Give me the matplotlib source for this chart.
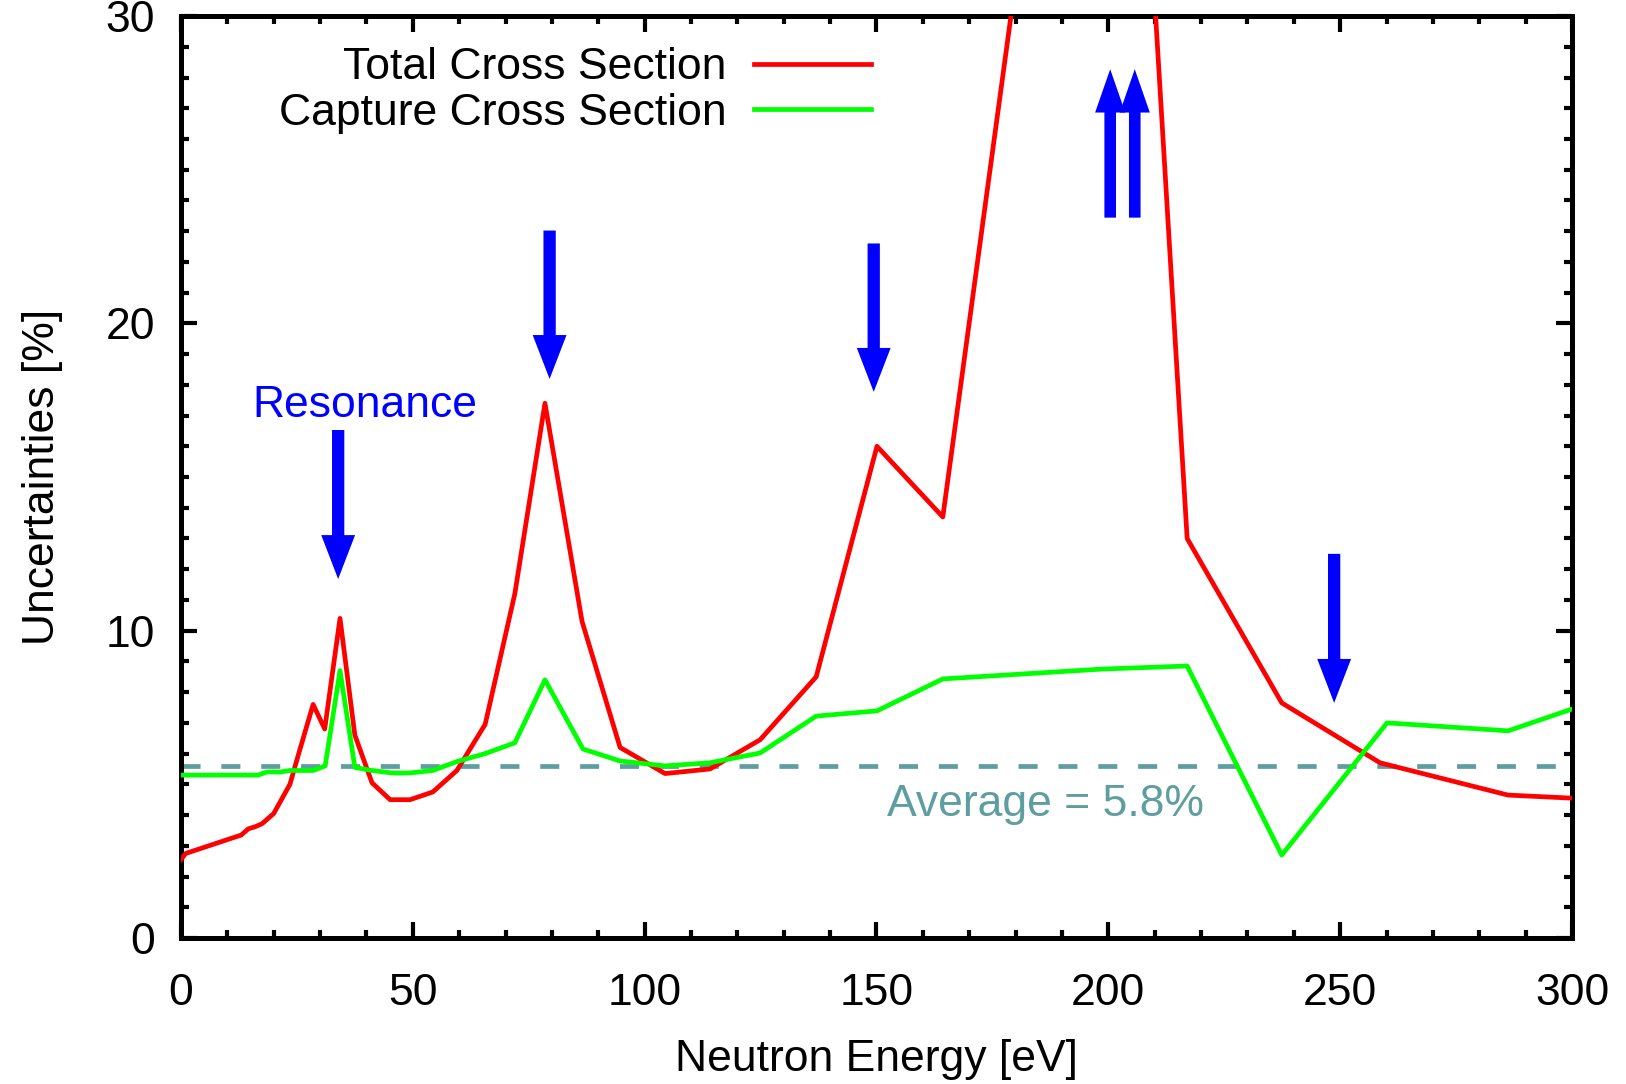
import matplotlib
matplotlib.use("Agg")
import matplotlib.pyplot as plt
from matplotlib.ticker import MultipleLocator

plt.rcParams['font.family'] = ['Liberation Sans', 'DejaVu Sans']

# ---------------- data ----------------
energy_total = [0, 1, 3, 5, 7, 9, 11, 13, 14.5, 16, 17.5, 20, 23.5, 25.2, 28.5, 31, 34.3,
                37.5, 41.2, 45.1, 49.4, 54.3, 59.5, 65.6, 72, 78.5, 86.5, 94.7, 104.4,
                114.1, 124.9, 137, 150.1, 164.3, 190, 205, 217, 237.4, 258.6, 286.2, 300]
unc_total = [2.55, 2.75, 2.85, 2.95, 3.05, 3.15, 3.25, 3.35, 3.55, 3.62, 3.72, 4.05, 5.0,
             5.9, 7.6, 6.8, 10.4, 6.6, 5.05, 4.5, 4.5, 4.75, 5.45, 6.95, 11.2, 17.4, 10.3,
             6.2, 5.35, 5.5, 6.45, 8.5, 16.0, 13.7, 42.2, 43.0, 13.0, 7.65, 5.7, 4.65, 4.55]

energy_capture = [0, 16.6, 18.5, 21.3, 23.5, 28.5, 31.1, 34.3, 37.5, 41.2, 45.5, 49.4, 54.3,
                  59.7, 65.6, 72, 78.5, 86.7, 94.7, 104.4, 114, 124.9, 137, 150.1, 164.3,
                  198.6, 217, 237.4, 260.1, 286.2, 300]
unc_capture = [5.3, 5.3, 5.4, 5.4, 5.45, 5.45, 5.6, 8.7, 5.55, 5.45, 5.37, 5.37, 5.45,
               5.75, 6.0, 6.35, 8.4, 6.15, 5.76, 5.6, 5.7, 6.02, 7.22, 7.39, 8.43,
               8.75, 8.85, 2.7, 7.0, 6.74, 7.45]

average_level = 5.6
average_label = "Average = 5.8%"

# resonance arrows: (energy, start, end)
down_arrows = [(33.9, 16.53, 11.68), (79.5, 23.02, 18.19), (149.4, 22.6, 17.77), (248.7, 12.5, 7.65)]
up_arrows = [(200.4, 23.44, 28.27), (205.7, 23.44, 28.27)]

x_ticks = [0, 50, 100, 150, 200, 250, 300]
y_ticks = [0, 10, 20, 30]

# ---------------- figure ----------------
fig = plt.figure(figsize=(16.26, 10.84), dpi=100)
ax = fig.add_axes([0.1113, 0.1347, 0.8555, 0.8505])

FS = 32
lw = 3.4

ax.plot(energy_total, unc_total, color='#ff0000', lw=lw, label='Total Cross Section', zorder=3)
ax.plot(energy_capture, unc_capture, color='#00ff00', lw=lw, label='Capture Cross Section', zorder=3)

dash_lw = 3.4
ax.axhline(average_level, color='#5f9ea0', lw=dash_lw,
           linestyle=(0, (13.7 / dash_lw, 15.0 / dash_lw)), zorder=2)
ax.text(152.2, 3.98, average_label, color='#5f9ea0', fontsize=FS, ha='left', va='baseline')

for x, y0, y1 in down_arrows:
    ax.arrow(x, y0, 0, y1 - y0, width=2.65, head_width=7.3, head_length=1.43,
             length_includes_head=True, color='#0000ff', lw=0, zorder=4)
for x, y0, y1 in up_arrows:
    ax.arrow(x, y0, 0, y1 - y0, width=2.5, head_width=6.5, head_length=1.41,
             length_includes_head=True, color='#0000ff', lw=0, zorder=4)

ax.text(39.6, 16.94, "Resonance", color='#0000ff', fontsize=FS, ha='center', va='baseline')

ax.set_xlim(0, 300)
ax.set_ylim(0, 30)
ax.set_xticks(x_ticks)
ax.set_yticks(y_ticks)
ax.xaxis.set_minor_locator(MultipleLocator(10))
ax.yaxis.set_minor_locator(MultipleLocator(1))
ax.tick_params(which='both', direction='in', top=True, right=True, labelsize=FS)
ax.tick_params(which='major', length=11.5, width=3.0)
ax.tick_params(which='minor', length=5.5, width=3.0)
ax.tick_params(axis='x', which='major', pad=25.5)
ax.tick_params(axis='y', which='major', pad=18.7)
for s in ax.spines.values():
    s.set_linewidth(3.6)

ax.set_xlabel("Neutron Energy [eV]", fontsize=FS, labelpad=17.5)
ax.set_ylabel("Uncertainties [%]", fontsize=FS, labelpad=30.5)

leg = ax.legend(loc='upper right', bbox_to_anchor=(0.496, 0.966), frameon=False,
                fontsize=FS, markerfirst=False, borderpad=0, borderaxespad=0,
                handlelength=2.635, handletextpad=0.615, labelspacing=0.1)

fig.savefig("out.png", dpi=100)
